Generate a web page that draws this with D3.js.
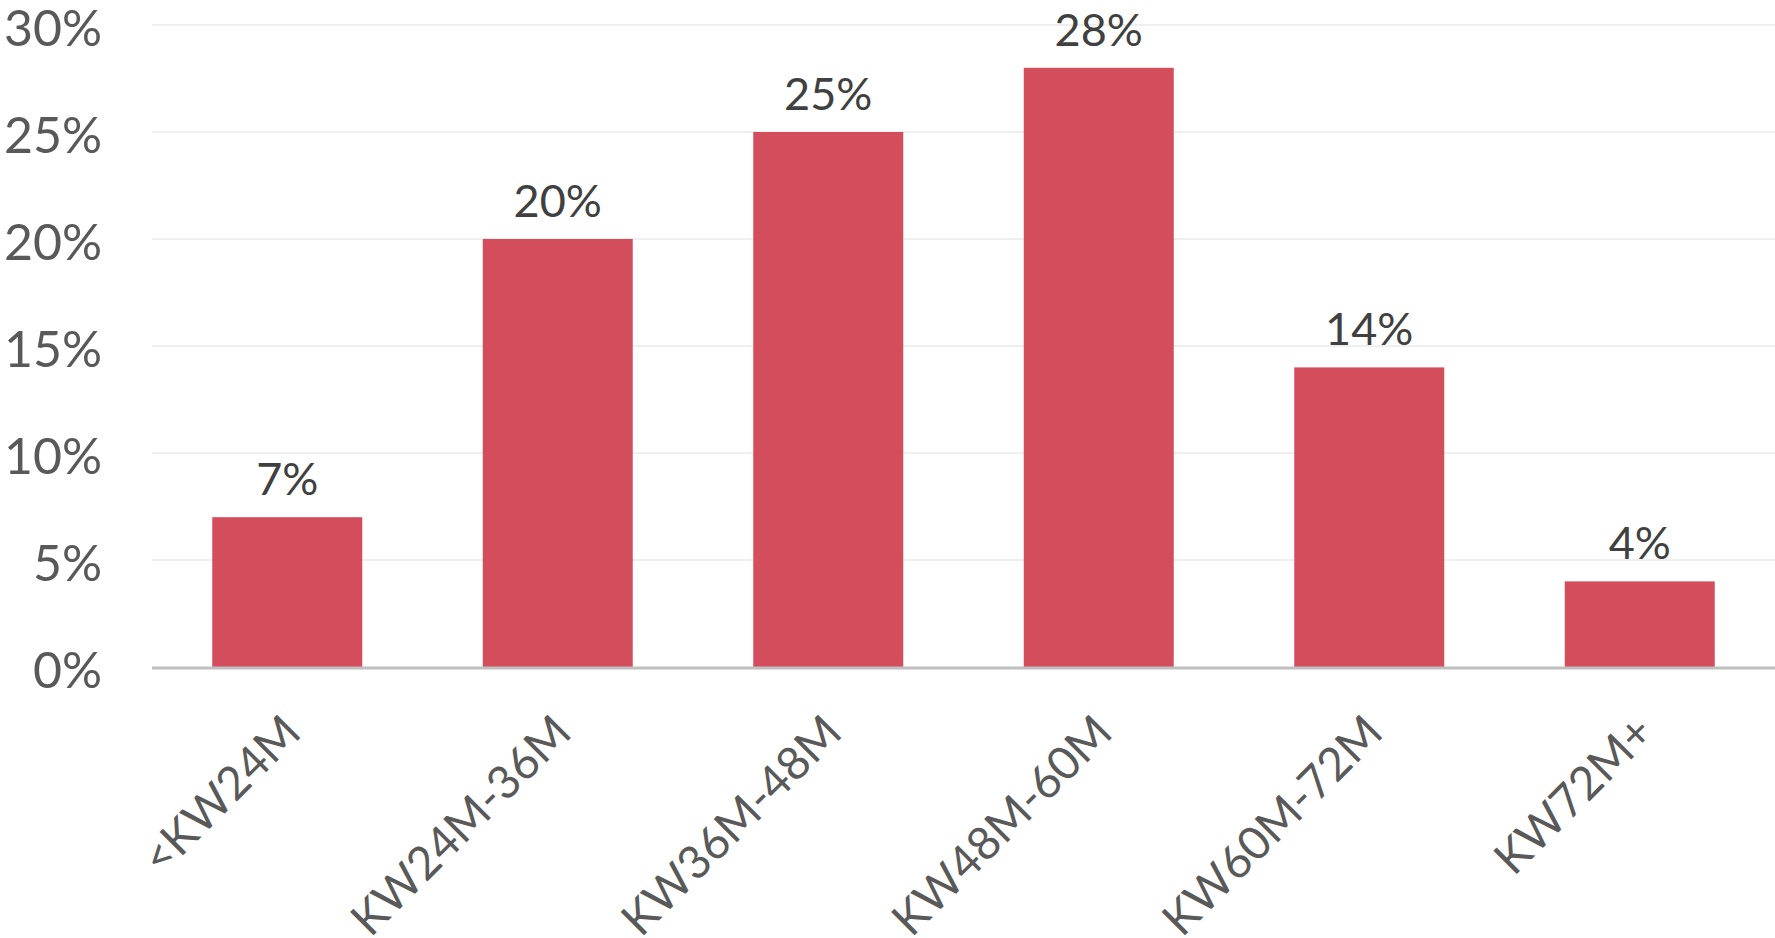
<!DOCTYPE html>
<html>
<head>
<meta charset="utf-8">
<script src="https://cdn.jsdelivr.net/npm/d3@7"></script>
<style>
  html, body { margin: 0; padding: 0; background: #ffffff; }
  svg { display: block; }
  text { font-family: Lato, "Open Sans", sans-serif; }
</style>
</head>
<body>
<svg id="chart" width="1775" height="938"></svg>
<script>
const categories = ["<KW24M", "KW24M-36M", "KW36M-48M", "KW48M-60M", "KW60M-72M", "KW72M+"];
const values = [7, 20, 25, 28, 14, 4];
const yTicks = [0, 5, 10, 15, 20, 25, 30];

const W = 1775, H = 938;
const margin = { left: 152, right: 0, top: 25, bottom: 271 };
const svg = d3.select("#chart");

const x = d3.scaleBand()
  .domain(categories)
  .range([margin.left, W - margin.right])
  .paddingInner(0.4455)
  .paddingOuter(0.4455 / 2);

const y = d3.scaleLinear()
  .domain([0, 30])
  .range([667, 25]);

// gridlines
svg.append("g")
  .selectAll("line")
  .data(yTicks.filter(d => d > 0))
  .join("line")
  .attr("x1", margin.left)
  .attr("x2", W)
  .attr("y1", d => y(d))
  .attr("y2", d => y(d))
  .attr("stroke", "#efefef")
  .attr("stroke-width", 2);

// y axis labels
const yAxis = d3.axisLeft(y).tickValues(yTicks).tickFormat(d => d + "%").tickSize(0).tickPadding(0);
const gy = svg.append("g").attr("transform", "translate(102,0)").call(yAxis);
gy.select(".domain").remove();
gy.selectAll("text")
  .attr("fill", "#595959")
  .attr("font-size", 50)
  .attr("font-family", "Lato, sans-serif")
  .attr("dy", "0.4em");

// bars
svg.append("g")
  .selectAll("rect")
  .data(values)
  .join("rect")
  .attr("x", (d, i) => x(categories[i]))
  .attr("width", x.bandwidth())
  .attr("y", d => y(d))
  .attr("height", d => y(0) - y(d))
  .attr("fill", "#d44d5c");

// baseline axis
const xAxis = d3.axisBottom(x).tickSize(0).tickPadding(0);
const gx = svg.append("g").attr("transform", "translate(0," + (y(0) + 1) + ")").call(xAxis);
gx.select(".domain")
  .attr("stroke", "#bfbfbf")
  .attr("stroke-width", 3)
  .attr("d", "M" + margin.left + ",0H" + W);
gx.selectAll(".tick text")
  .attr("fill", "#595959")
  .attr("font-size", 46)
  .attr("font-family", "Lato, sans-serif")
  .attr("text-anchor", "end")
  .attr("dy", 0)
  .attr("transform", "translate(16,67) rotate(-45)");

// value labels
svg.append("g")
  .selectAll("text")
  .data(values)
  .join("text")
  .attr("x", (d, i) => x(categories[i]) + x.bandwidth() / 2)
  .attr("y", d => y(d) - 22)
  .attr("text-anchor", "middle")
  .attr("fill", "#404040")
  .attr("font-size", 45)
  .text(d => d + "%");
</script>
</body>
</html>
